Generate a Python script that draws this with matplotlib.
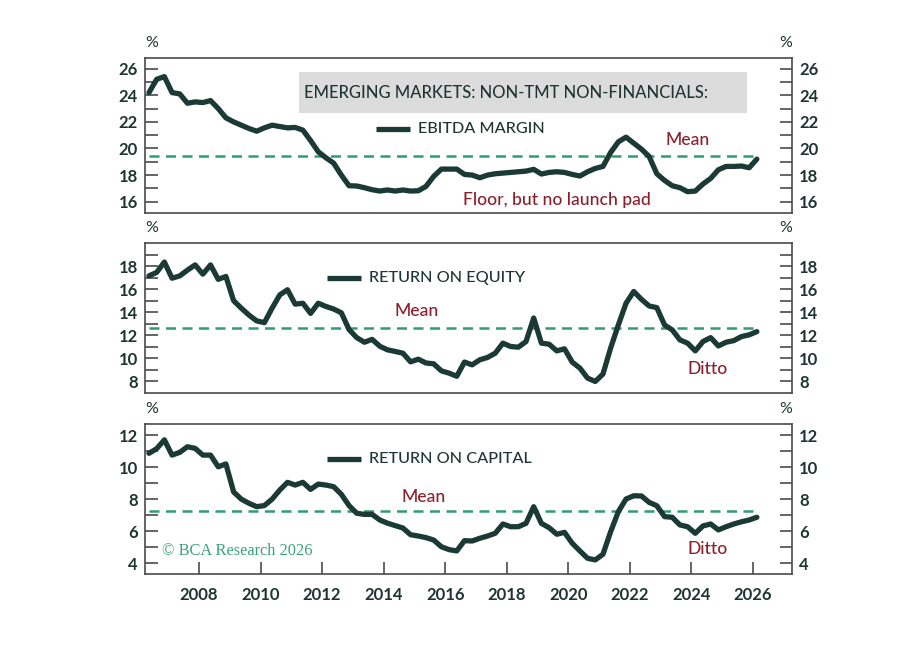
import numpy as np
import matplotlib
matplotlib.use("Agg")
import matplotlib.pyplot as plt
from matplotlib.patches import Rectangle

# quarterly readings, 2006Q2 .. 2026Q1
ebitda_margin = [
    24.2, 25.2, 25.4, 24.2, 24.1, 23.4, 23.5, 23.45, 23.6, 23.0,
    22.3, 22.0, 21.75, 21.5, 21.3, 21.55, 21.75, 21.65, 21.55, 21.58,
    21.38, 20.6, 19.75, 19.3, 18.9, 18.0, 17.2, 17.18, 17.05, 16.9,
    16.8, 16.88, 16.8, 16.88, 16.8, 16.82, 17.15, 17.9, 18.45, 18.45,
    18.45, 18.05, 18.0, 17.8, 18.0, 18.1, 18.15, 18.2, 18.25, 18.3,
    18.43, 18.08, 18.2, 18.25, 18.2, 18.05, 17.93, 18.25, 18.5, 18.65,
    19.7, 20.5, 20.85, 20.4, 19.95, 19.4, 18.1, 17.6, 17.2, 17.05,
    16.75, 16.8, 17.33, 17.75, 18.4, 18.65, 18.65, 18.68, 18.55, 19.2,
]
return_on_equity = [
    17.15, 17.45, 18.35, 16.95, 17.15, 17.65, 18.1, 17.3, 18.1, 16.85,
    17.1, 15.0, 14.35, 13.75, 13.25, 13.1, 14.35, 15.5, 15.95, 14.7,
    14.78, 13.9, 14.78, 14.5, 14.28, 13.95, 12.5, 11.8, 11.4, 11.65,
    11.05, 10.74, 10.6, 10.45, 9.7, 9.93, 9.6, 9.53, 8.92, 8.72,
    8.45, 9.68, 9.44, 9.88, 10.08, 10.45, 11.32, 11.03, 10.97, 11.46,
    13.5, 11.32, 11.23, 10.65, 10.83, 9.68, 9.16, 8.29, 8.0, 8.64,
    10.9, 12.9, 14.78, 15.8, 15.12, 14.54, 14.4, 12.9, 12.47, 11.6,
    11.32, 10.65, 11.46, 11.8, 11.08, 11.4, 11.54, 11.89, 12.04, 12.32,
]
return_on_capital = [
    10.86, 11.15, 11.7, 10.75, 10.92, 11.27, 11.17, 10.75, 10.75, 10.02,
    10.2, 8.45, 8.0, 7.74, 7.53, 7.6, 8.0, 8.57, 9.05, 8.88,
    9.05, 8.61, 8.94, 8.88, 8.78, 8.3, 7.6, 7.12, 7.05, 7.05,
    6.7, 6.5, 6.35, 6.2, 5.78, 5.7, 5.6, 5.45, 5.03, 4.85,
    4.77, 5.41, 5.39, 5.56, 5.7, 5.87, 6.45, 6.28, 6.28, 6.49,
    7.53, 6.49, 6.22, 5.81, 5.93, 5.25, 4.77, 4.31, 4.21, 4.56,
    5.97, 7.22, 8.01, 8.21, 8.2, 7.8, 7.59, 6.91, 6.87, 6.39,
    6.28, 5.87, 6.33, 6.45, 6.08, 6.28, 6.45, 6.59, 6.7, 6.87,
]
means = [19.45, 12.62, 7.28]
series_names = ["EBITDA MARGIN", "RETURN ON EQUITY", "RETURN ON CAPITAL"]
year_ticks = list(range(2008, 2027, 2))

quarters = 2006.375 + 0.25 * np.arange(len(ebitda_margin))

LINE = "#1b3a35"
MEAN = "#2f9c72"
RED = "#8c1f2d"
SPINE = "#4a4a4a"
TXT = "#1f3531"
FONT = ["Lato", "DejaVu Sans"]

plt.rcParams["font.family"] = FONT

fig = plt.figure(figsize=(9.12, 6.53), dpi=100)
W, H = 912, 653
left, right = 145, 792
panels_px = [(58, 213), (243, 393), (424, 574)]
ylims = [(15.15, 26.8), (7.0, 20.0), (3.33, 12.69)]
yticks = [range(16, 27, 2), range(8, 19, 2), range(4, 13, 2)]
yminor = [range(16, 27), range(8, 20), range(4, 13)]
data = [ebitda_margin, return_on_equity, return_on_capital]

axes = []
for i, (top, bot) in enumerate(panels_px):
    ax = fig.add_axes([left / W, 1 - bot / H, (right - left) / W, (bot - top) / H])
    axes.append(ax)
    ax.plot(quarters, data[i], color=LINE, lw=3.8, solid_joinstyle="round",
            solid_capstyle="round", zorder=3)
    ax.hlines(means[i], quarters[0], quarters[-1], color=MEAN, lw=1.8,
              linestyles=(0, (4, 2.6)), zorder=2)
    ax.set_xlim(2006.246, 2027.267)
    ax.set_ylim(*ylims[i])
    ax.set_yticks(list(yticks[i]))
    ax.set_yticks(list(yminor[i]), minor=True)
    ax.tick_params(axis="y", which="both", direction="in", length=9, width=1.2,
                   color=SPINE, left=True, right=True, labelleft=True,
                   labelright=True, labelsize=12, pad=5, labelcolor=TXT)
    for lab in ax.get_yticklabels():
        lab.set_fontweight("bold")
    ax.set_xticks(year_ticks)
    if i < 2:
        ax.tick_params(axis="x", which="both", bottom=False, labelbottom=False)
    else:
        ax.tick_params(axis="x", direction="in", length=9, width=1.2, color=SPINE,
                       labelsize=12, pad=9, labelcolor=TXT)
        for lab in ax.get_xticklabels():
            lab.set_fontweight("bold")
    for s in ax.spines.values():
        s.set_color(SPINE)
        s.set_linewidth(1.2)
    h = bot - top
    ax.text(0.0, 1 + 15 / h, "%", transform=ax.transAxes, ha="left", va="center",
            fontsize=11.5, color=TXT)
    ax.text(1.0, 1 + 15 / h, "%", transform=ax.transAxes, ha="right", va="center",
            fontsize=11.5, color=TXT)

# title box in the top panel
ax0, ax1, ax2 = axes
ax0.add_patch(Rectangle((0.238, 0.645), 0.692, 0.265, transform=ax0.transAxes,
                        facecolor="#dcdcdc", edgecolor="none", zorder=1))
ax0.text(0.2457, 0.774, "EMERGING MARKETS: NON-TMT NON-FINANCIALS:",
         transform=ax0.transAxes, ha="left", va="center", fontsize=11.9,
         fontweight="medium", color=TXT, zorder=4)

# legends
legend_pos = [(0.357, 0.410, 0.542), (0.2813, 0.3338, 0.767), (0.2813, 0.3338, 0.767)]
for ax, name, (x0, x1, y) in zip(axes, series_names, legend_pos):
    ax.plot([x0, x1], [y, y], transform=ax.transAxes, color=LINE, lw=3.8,
            solid_capstyle="butt", zorder=4)
    ax.text(x1 + 0.012, y, name, transform=ax.transAxes, ha="left", va="center",
            fontsize=11.7, fontweight="medium", color=TXT, zorder=4)

# annotations
notes = [
    (ax0, 0.804, 0.471, "Mean"),
    (ax0, 0.4915, 0.084, "Floor, but no launch pad"),
    (ax1, 0.386, 0.547, "Mean"),
    (ax1, 0.839, 0.16, "Ditto"),
    (ax2, 0.397, 0.513, "Mean"),
    (ax2, 0.839, 0.167, "Ditto"),
]
for ax, x, y, txt in notes:
    ax.text(x, y, txt, transform=ax.transAxes, ha="left", va="center",
            fontsize=12.6, fontweight="medium", color=RED, zorder=4)

ax2.text(0.0263, 0.153, "\u00a9 BCA Research 2026", transform=ax2.transAxes,
         ha="left", va="center", fontsize=11.8, color="#3aa37a",
         family=["Liberation Serif", "DejaVu Serif"], zorder=4)

fig.savefig("out.png", dpi=100, facecolor="white")
